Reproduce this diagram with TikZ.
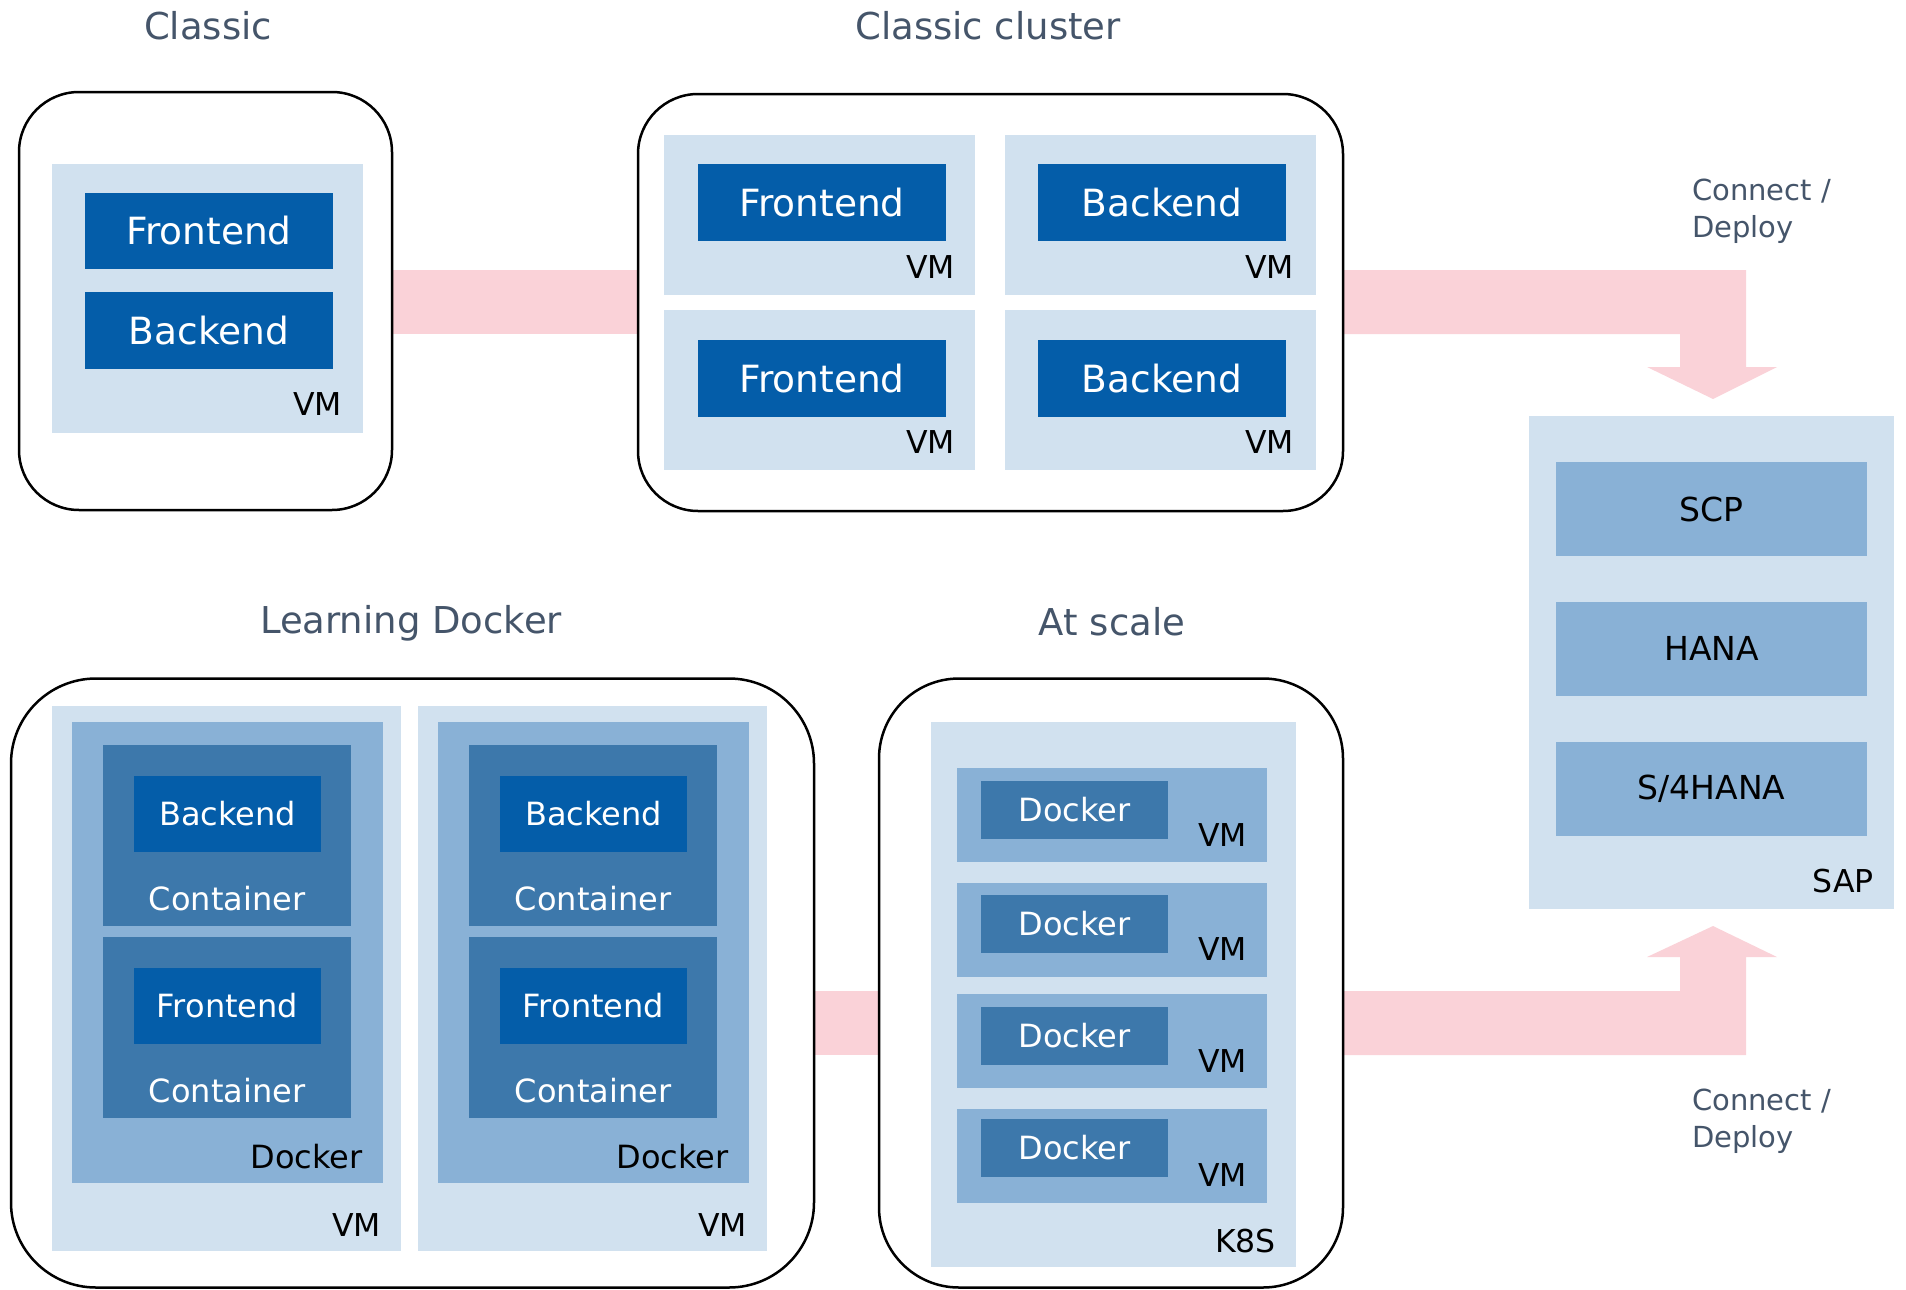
\documentclass[tikz,border=0pt]{standalone}
\usepackage{fontspec}
\setmainfont{DejaVu Sans}
\usetikzlibrary{positioning}

\definecolor{appblue}{HTML}{045DA9}
\definecolor{contblue}{HTML}{3D78AB}
\definecolor{dockblue}{HTML}{89B1D6}
\definecolor{vmblue}{HTML}{D1E1EF}
\definecolor{bandpink}{HTML}{FAD2D8}
\definecolor{titlegray}{HTML}{45556A}

\tikzset{
  box/.style={inner sep=0pt, outer sep=0pt, draw=none},
  stagebox/.style={box, draw=black, line width=2.5pt, fill=white, rounded corners=#1},
  vmbox/.style={box, fill=vmblue},
  dockbox/.style={box, fill=dockblue},
  contbox/.style={box, fill=contblue},
  appbox/.style={box, fill=appblue, text=white},
  title/.style={text=titlegray, font=\fontsize{37}{44}\selectfont},
  biglbl/.style={font=\fontsize{37.5}{44}\selectfont},
  smalllbl/.style={font=\fontsize{32}{38}\selectfont},
  vmlbl/.style={inner sep=0pt, anchor=base east, font=\fontsize{31.5}{37}\selectfont},
  band/.style={fill=bandpink},
}

\begin{document}
\begin{tikzpicture}[x=1pt, y=-1pt]
  \useasboundingbox (0,0) rectangle (1906,1290);

  % pink bands and arrows
  \fill[band] (392,270) rectangle (638,334);
  \fill[band] (814,991) rectangle (879,1055);
  \fill[band] (1343,270) -- (1746,270) -- (1746,367) -- (1777,367) -- (1713,399)
    -- (1647,367) -- (1680,367) -- (1680,334) -- (1343,334) -- cycle;
  \fill[band] (1343,1055) -- (1746,1055) -- (1746,957) -- (1777,957) -- (1713,926)
    -- (1647,957) -- (1680,957) -- (1680,991) -- (1343,991) -- cycle;

  % Classic
  \node[title] (tClassic) at (208,26) {Classic};
  \node[stagebox=60pt, minimum width=373pt, minimum height=418pt] (classic) at (205.5,301) {};
  \node[vmbox, minimum width=311pt, minimum height=269pt] (vmC) at (207.5,298.5) {};
  \node[appbox, biglbl, minimum width=248pt, minimum height=76pt] (feC) at (209,231) {Frontend};
  \node[appbox, biglbl, minimum width=248pt, minimum height=77pt] (beC) at (209,330.5) {Backend};
  \node[vmlbl] (vmClbl) at (342,415) {VM};

  % Classic cluster
  \node[title] (tCluster) at (988,26) {Classic cluster};
  \node[stagebox=60pt, minimum width=705pt, minimum height=417pt] (cluster) at (990.5,302.5) {};
  \node[vmbox, minimum width=311pt, minimum height=160pt] (vmA) at (819.5,215) {};
  \node[vmbox, minimum width=311pt, minimum height=160pt] (vmB) at (1160.5,215) {};
  \node[vmbox, minimum width=311pt, minimum height=160pt] (vmD) at (819.5,390) {};
  \node[vmbox, minimum width=311pt, minimum height=160pt] (vmE) at (1160.5,390) {};
  \node[appbox, biglbl, minimum width=248pt, minimum height=77pt] (feA) at (822,202.5) {Frontend};
  \node[appbox, biglbl, minimum width=248pt, minimum height=77pt] (beB) at (1162,202.5) {Backend};
  \node[appbox, biglbl, minimum width=248pt, minimum height=77pt] (feD) at (822,378.5) {Frontend};
  \node[appbox, biglbl, minimum width=248pt, minimum height=77pt] (beE) at (1162,378.5) {Backend};
  \node[vmlbl] (vmAlbl) at (955,278) {VM};
  \node[vmlbl] (vmBlbl) at (1294,278) {VM};
  \node[vmlbl] (vmDlbl) at (955,453) {VM};
  \node[vmlbl] (vmElbl) at (1294,453) {VM};

  \node[text=titlegray, align=left, anchor=north west, inner sep=0pt,
    font=\fontsize{29}{37}\selectfont] (cdTop) at (1692,179) {Connect /\\Deploy};

  % SAP
  \node[vmbox, minimum width=365pt, minimum height=493pt] (sap) at (1711.5,662.5) {};
  \node[dockbox, font=\fontsize{33}{40}\selectfont, minimum width=311pt, minimum height=94pt] (scp) at (1711.5,509) {SCP};
  \node[dockbox, font=\fontsize{33}{40}\selectfont, minimum width=311pt, minimum height=94pt] (hana) at (1711.5,648.5) {HANA};
  \node[dockbox, font=\fontsize{33}{40}\selectfont, minimum width=311pt, minimum height=94pt] (s4) at (1711.5,788.5) {S/4HANA};
  \node[vmlbl] (saplbl) at (1874,892) {SAP};

  \node[text=titlegray, align=left, anchor=north west, inner sep=0pt,
    font=\fontsize{29}{37}\selectfont] (cdBot) at (1692,1089) {Connect /\\Deploy};

  % Learning Docker
  \node[title] (tLearn) at (411,623) {Learning Docker};
  \node[stagebox=85pt, minimum width=803pt, minimum height=609pt] (learn) at (412.5,983) {};
  \foreach \dx/\n in {0/1, 366/2} {
    \node[vmbox, minimum width=349pt, minimum height=545pt] (vmL\n) at (226.5+\dx,978.5) {};
    \node[dockbox, minimum width=311pt, minimum height=461pt] (dk\n) at (227.5+\dx,952.5) {};
    \node[contbox, minimum width=248pt, minimum height=181pt] (ctA\n) at (227+\dx,835.5) {};
    \node[contbox, minimum width=248pt, minimum height=181pt] (ctB\n) at (227+\dx,1027.5) {};
    \node[appbox, smalllbl, minimum width=187pt, minimum height=76pt] (be\n) at (227.5+\dx,814) {Backend};
    \node[appbox, smalllbl, minimum width=187pt, minimum height=76pt] (fe\n) at (227.5+\dx,1006) {Frontend};
    \node[smalllbl, text=white, inner sep=0pt, anchor=base] (ctAlbl\n) at (227+\dx,910) {Container};
    \node[smalllbl, text=white, inner sep=0pt, anchor=base] (ctBlbl\n) at (227+\dx,1102) {Container};
    \node[vmlbl, font=\fontsize{32}{38}\selectfont] (dklbl\n) at (363+\dx,1168) {Docker};
    \node[vmlbl] (vmLlbl\n) at (381+\dx,1236) {VM};
  }

  % At scale
  \node[title] (tScale) at (1112,622) {At scale};
  \node[stagebox=80pt, minimum width=464pt, minimum height=609pt] (scale) at (1111,983) {};
  \node[vmbox, minimum width=365pt, minimum height=545pt] (k8s) at (1113.5,994.5) {};
  \foreach \vy/\dy/\n in {815/809.5/1, 929.5/924/2, 1041/1035.5/3, 1155.5/1147.5/4} {
    \node[dockbox, minimum width=310pt, minimum height=94pt] (vmS\n) at (1112,\vy) {};
    \node[contbox, smalllbl, text=white, minimum width=187pt, minimum height=58pt] (dS\n) at (1074.5,\dy) {Docker};
    \node[vmlbl] (vmSlbl\n) at (1247,\vy+31) {VM};
  }
  \node[vmlbl] (k8slbl) at (1276,1252) {K8S};
\end{tikzpicture}
\end{document}
